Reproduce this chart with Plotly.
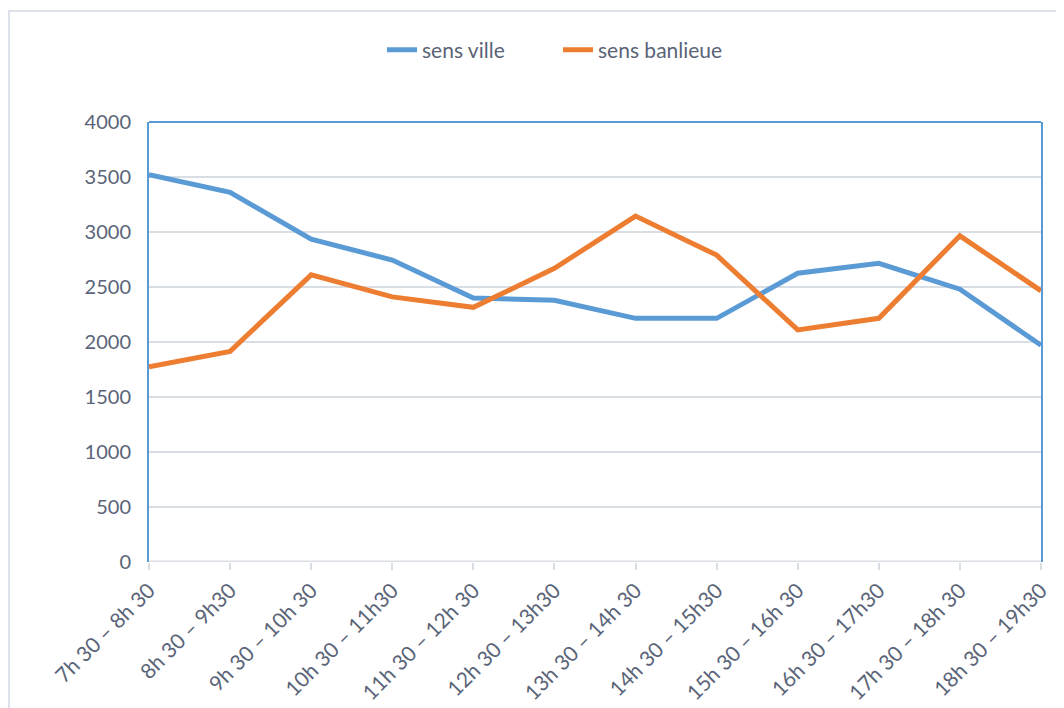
import plotly.graph_objects as go

# tranches horaires
periods = ["7h 30 – 8h 30", "8h 30 – 9h30", "9h 30 – 10h 30", "10h 30 – 11h30",
           "11h 30 – 12h 30", "12h 30 – 13h30", "13h 30 – 14h 30", "14h 30 – 15h30",
           "15h 30 – 16h 30", "16h 30 – 17h30", "17h 30 – 18h 30", "18h 30 – 19h30"]

sens_ville = [3520, 3360, 2935, 2745, 2400, 2380, 2215, 2215, 2625, 2715, 2480, 1970]
sens_banlieue = [1775, 1915, 2610, 2410, 2315, 2670, 3145, 2790, 2110, 2215, 2965, 2465]

y_ticks = [0, 500, 1000, 1500, 2000, 2500, 3000, 3500, 4000]

text_color = "#5a6478"

fig = go.Figure()
fig.add_trace(go.Scatter(x=periods, y=sens_ville, mode="lines", name="sens ville",
                         line=dict(color="#5B9BD5", width=5)))
fig.add_trace(go.Scatter(x=periods, y=sens_banlieue, mode="lines", name="sens banlieue",
                         line=dict(color="#ED7D31", width=5)))

# la page a une marge de 8px autour du graphique
fig.update_layout(
    width=1056, height=700,
    margin=dict(l=141, r=23, t=114, b=146, autoexpand=False),
    paper_bgcolor="white", plot_bgcolor="white",
    font=dict(family="Lato, Open Sans, sans-serif", color=text_color, size=20),
    legend=dict(orientation="h", x=(382 - 149) / 892, xanchor="left",
                y=1 + 72 / 440, yanchor="middle",
                font=dict(size=21), entrywidth=131, entrywidthmode="pixels"),
    showlegend=True,
)

fig.update_xaxes(
    range=[0, 11], tickangle=-45, showgrid=False, showline=False, zeroline=False,
    ticks="outside", ticklen=7, tickcolor="#d9dde4", tickwidth=2, automargin=False,
    tickfont=dict(size=21, color=text_color),
)
fig.update_yaxes(
    range=[0, 4000], tickvals=y_ticks, showgrid=True, gridcolor="#d9dde4", gridwidth=2,
    zeroline=False, showline=True, linecolor="#5B9BD5", linewidth=2, mirror=True,
    ticks="", ticklabelstandoff=12, automargin=False, tickfont=dict(size=20, color=text_color),
)

# cadre: haut bleu, bas gris
fig.add_shape(type="line", xref="paper", yref="paper", x0=0, x1=1, y0=1, y1=1,
              line=dict(color="#5B9BD5", width=2))
fig.add_shape(type="line", xref="paper", yref="y", x0=0, x1=1, y0=0, y1=0,
              line=dict(color="#d9dde4", width=3), layer="below")
# bordure du graphique
fig.add_shape(type="rect", xref="paper", yref="paper",
              x0=(1 - 141) / 892, x1=1.1, y0=-1, y1=1 + (114 - 3) / 440,
              line=dict(color="#dde2ea", width=2))

fig.write_html("out.html")
